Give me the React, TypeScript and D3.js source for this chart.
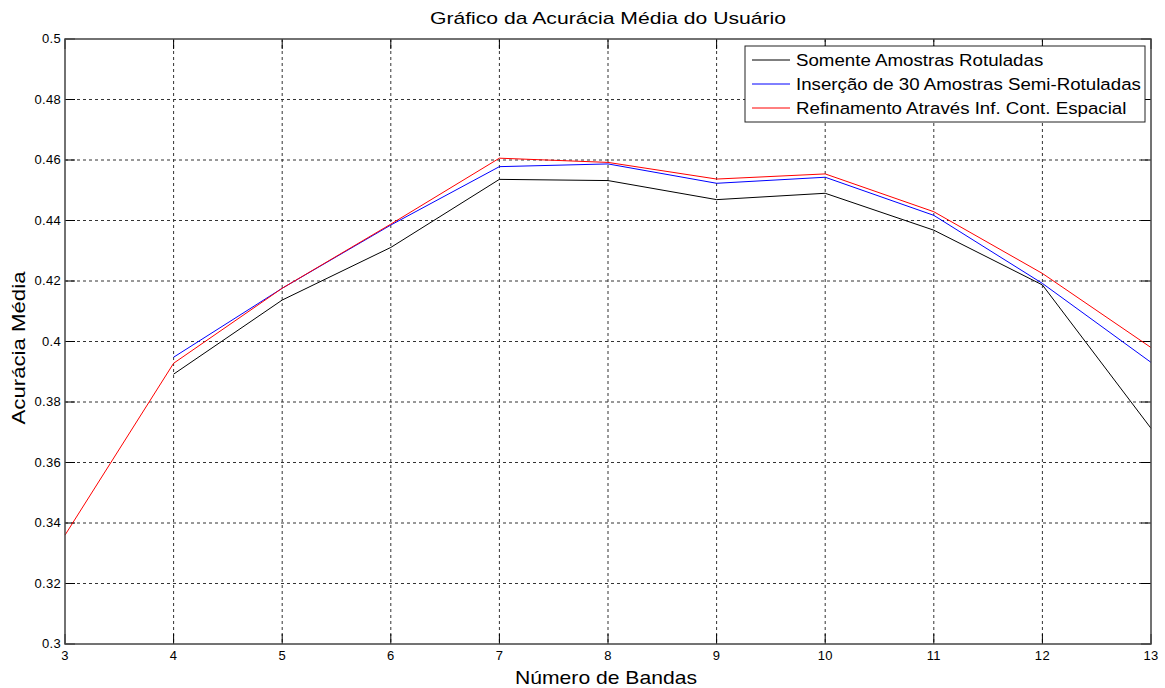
import React from "react";
import * as d3 from "d3";

const bands = [3, 4, 5, 6, 7, 8, 9, 10, 11, 12, 13];
const somente: (number | null)[] = [null, 0.3892, 0.4137, 0.4311, 0.4536, 0.4532, 0.4469, 0.449, 0.4368, 0.4187, 0.3713];
const insercao: (number | null)[] = [null, 0.3948, 0.4176, 0.4385, 0.4578, 0.4587, 0.4523, 0.4543, 0.4417, 0.4192, 0.3931];
const refinamento: (number | null)[] = [0.336, 0.3928, 0.4176, 0.4388, 0.4606, 0.4592, 0.4537, 0.4554, 0.4429, 0.4225, 0.398];
const seriesNames = [
  "Somente Amostras Rotuladas",
  "Inserção de 30 Amostras Semi-Rotuladas",
  "Refinamento Através Inf. Cont. Espacial",
];
const seriesColors = ["#000000", "#0000ff", "#ff0000"];
const yTicks = [0.3, 0.32, 0.34, 0.36, 0.38, 0.4, 0.42, 0.44, 0.46, 0.48, 0.5];
const xTicks = [3, 4, 5, 6, 7, 8, 9, 10, 11, 12, 13];

const W = 1165, H = 688;
const L = 65, R = 1151, T = 39, B = 644;
const FONT = "'Liberation Sans', Arial, sans-serif";

export default function App() {
  const x = d3.scaleLinear().domain([3, 13]).range([L, R]);
  const y = d3.scaleLinear().domain([0.3, 0.5]).range([B, T]);
  const all = [somente, insercao, refinamento];
  const line = d3
    .line<[number, number | null]>()
    .defined((d) => d[1] !== null)
    .x((d) => x(d[0]))
    .y((d) => y(d[1] as number));
  const fmt = (v: number) => String(+v.toFixed(2));
  const tickLen = 10;
  const legendX = 796;
  return (
    <svg width={W} height={H} style={{ position: "absolute", left: 0, top: 0, background: "#fff" }} fontFamily={FONT}>
      <rect x={0} y={0} width={W} height={H} fill="#fff" />
      {/* grid */}
      {xTicks.slice(1, -1).map((t) => (
        <line key={"gx" + t} x1={x(t)} x2={x(t)} y1={T} y2={B} stroke="#333" strokeWidth={1} strokeDasharray="3,3" />
      ))}
      {yTicks.slice(1, -1).map((t) => (
        <line key={"gy" + t} x1={L} x2={R} y1={y(t)} y2={y(t)} stroke="#333" strokeWidth={1} strokeDasharray="3,3" />
      ))}
      {/* ticks */}
      {xTicks.map((t) => (
        <g key={"tx" + t}>
          <line x1={x(t)} x2={x(t)} y1={B} y2={B - tickLen} stroke="#000" />
          <line x1={x(t)} x2={x(t)} y1={T} y2={T + tickLen} stroke="#000" />
          <text x={x(t)} y={B + 16} fontSize={13} letterSpacing={0.3} textAnchor="middle" fill="#000">{t}</text>
        </g>
      ))}
      {yTicks.map((t) => (
        <g key={"ty" + t}>
          <line x1={L} x2={L + tickLen} y1={y(t)} y2={y(t)} stroke="#000" />
          <line x1={R} x2={R - tickLen} y1={y(t)} y2={y(t)} stroke="#000" />
          <text x={L - 4} y={y(t) + 4} fontSize={13} letterSpacing={0.3} textAnchor="end" fill="#000">{fmt(t)}</text>
        </g>
      ))}
      {/* lines */}
      {all.map((s, i) => (
        <path
          key={"s" + i}
          d={line(bands.map((b, j) => [b, s[j]] as [number, number | null])) || ""}
          fill="none"
          stroke={seriesColors[i]}
          strokeWidth={1}
        />
      ))}
      {/* box */}
      <rect x={L} y={T} width={R - L} height={B - T} fill="none" stroke="#444" strokeWidth={1.5} />
      {/* legend */}
      <g>
        <rect x={745} y={46} width={400} height={76} fill="#fff" stroke="#222" strokeWidth={1} />
        {seriesNames.map((n, i) => (
          <g key={"lg" + i}>
            <line x1={752} x2={790} y1={60 + i * 24} y2={60 + i * 24} stroke={seriesColors[i]} strokeWidth={1} />
            <text
              transform={`translate(${legendX},${66 + i * 24}) scale(1.1,1)`}
              fontSize={17}
              fill="#000"
            >
              {n}
            </text>
          </g>
        ))}
      </g>
      {/* titles */}
      <text x={(L + R) / 2} y={24} fontSize={17} textAnchor="middle" fill="#000" textLength={356} lengthAdjust="spacingAndGlyphs">Gráfico da Acurácia Média do Usuário</text>
      <text x={606} y={684} fontSize={19} textAnchor="middle" fill="#000" textLength={182} lengthAdjust="spacingAndGlyphs">Número de Bandas</text>
      <text transform={`translate(25,348) rotate(-90)`} fontSize={19} textAnchor="middle" fill="#000" textLength={153} lengthAdjust="spacingAndGlyphs">Acurácia Média</text>
    </svg>
  );
}
